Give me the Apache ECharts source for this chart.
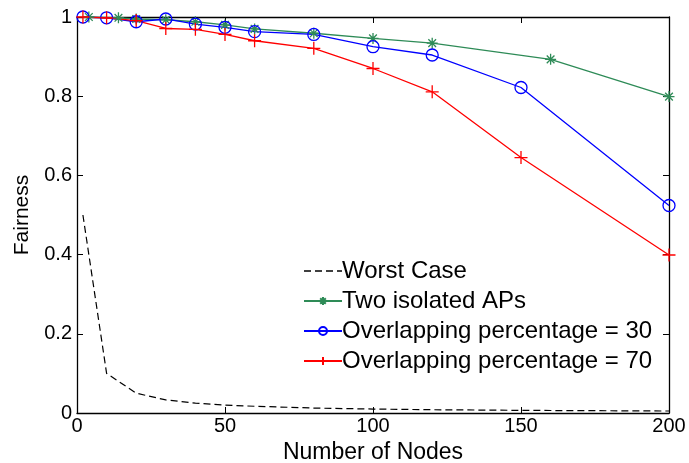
<!DOCTYPE html>
<html><head><meta charset="utf-8">
<script src="https://cdn.jsdelivr.net/npm/echarts@6/dist/echarts.min.js"></script>
<style>html,body{margin:0;padding:0;background:#fff}#c{width:689px;height:463px}</style>
</head><body><div id="c"></div>
<script>
const worstX = [2, 10, 20, 30, 40, 50, 60, 80, 100, 120, 150, 160, 200];
const worstY = [0.5, 0.1, 0.05, 0.033, 0.025, 0.02, 0.017, 0.0125, 0.01, 0.0083, 0.0067, 0.0063, 0.005];
const isoX = [4, 14, 20, 30, 40, 50, 60, 80, 100, 120, 160, 200];
const isoY = [1.0, 0.998, 0.995, 0.993, 0.988, 0.98, 0.970, 0.959, 0.946, 0.934, 0.893, 0.799];
const ov30X = [2, 10, 20, 30, 40, 50, 60, 80, 100, 120, 150, 200];
const ov30Y = [1.0, 0.998, 0.988, 0.995, 0.982, 0.974, 0.963, 0.956, 0.925, 0.904, 0.822, 0.524];
const ov70X = [2, 10, 20, 30, 40, 50, 60, 80, 100, 120, 150, 200];
const ov70Y = [1.0, 0.998, 0.991, 0.971, 0.969, 0.956, 0.940, 0.921, 0.870, 0.811, 0.645, 0.399];
const names = ['Worst Case', 'Two isolated APs', 'Overlapping percentage = 30', 'Overlapping percentage = 70'];
const xTicks = [0, 50, 100, 150, 200];
const yTicks = [0, 0.2, 0.4, 0.6, 0.8, 1];

const zip = (xs, ys) => xs.map((x, i) => [x, ys[i]]);
const FONT = 'Liberation Sans, Arial, sans-serif';
const star = 'path://M5,0L5,10M0,5L10,5M1.5,1.5L8.5,8.5M1.5,8.5L8.5,1.5';
const plus = 'path://M5,0L5,10M0,5L10,5';
const dashIcon = 'path://M0,0h7v1.4h-7zM11,0h7v1.4h-7zM22,0h7v1.4h-7zM33,0h5v1.4h-5z';

const chart = echarts.init(document.getElementById('c'), null, {renderer: 'canvas'});
const axisCommon = {
  axisLine: {show: true, onZero: false, lineStyle: {color: '#000', width: 1.3}},
  axisTick: {show: true, inside: true, length: 6, lineStyle: {color: '#000'}},
  splitLine: {show: false}
};
chart.setOption({
  animation: false,
  grid: {left: 77, right: 20, top: 17, bottom: 50, containLabel: false, outerBoundsMode: 'none'},
  xAxis: [
    Object.assign({}, axisCommon, {type: 'value', min: 0, max: 200, interval: 50,
      name: 'Number of Nodes', nameLocation: 'middle', nameGap: 20,
      nameTextStyle: {fontFamily: FONT, fontSize: 23, color: '#000'},
      axisLabel: {fontFamily: FONT, fontSize: 20, color: '#000', margin: 3,
        formatter: v => xTicks.includes(v) ? String(v) : ''}}),
    Object.assign({}, axisCommon, {type: 'value', min: 0, max: 200, interval: 50, position: 'top',
      axisLabel: {show: false}})
  ],
  yAxis: [
    Object.assign({}, axisCommon, {type: 'value', min: 0, max: 1, interval: 0.2,
      name: 'Fairness', nameLocation: 'middle', nameGap: 44,
      nameTextStyle: {fontFamily: FONT, fontSize: 21, color: '#000'},
      axisLabel: {fontFamily: FONT, fontSize: 20, color: '#000', margin: 5,
        formatter: v => { const t = yTicks.find(t => Math.abs(t - v) < 1e-9); return t === undefined ? '' : String(t); }}}),
    Object.assign({}, axisCommon, {type: 'value', min: 0, max: 1, interval: 0.2, position: 'right',
      axisLabel: {show: false}})
  ],
  legend: {
    orient: 'vertical', left: 298, top: 254, itemWidth: 38, itemHeight: 10, itemGap: 6,
    textStyle: {fontFamily: FONT, fontSize: 24, color: '#000', padding: [0, 0, 0, -5]},
    data: [{name: names[0], icon: dashIcon, itemStyle: {color: '#000', borderWidth: 0}}, names[1], names[2], names[3]]
  },
  series: [
    {name: names[0], type: 'line', data: zip(worstX, worstY), showSymbol: false, symbol: 'none',
      lineStyle: {color: '#000', width: 1.2, type: [7, 4]}, itemStyle: {color: '#000'}},
    {name: names[1], type: 'line', data: zip(isoX, isoY), symbol: star, symbolSize: 11,
      lineStyle: {color: '#2e8b57', width: 1.3},
      itemStyle: {color: 'none', borderColor: '#2e8b57', borderWidth: 1.3}},
    {name: names[2], type: 'line', data: zip(ov30X, ov30Y), symbol: 'circle', symbolSize: 12,
      lineStyle: {color: '#0000ff', width: 1.3},
      itemStyle: {color: 'none', borderColor: '#0000ff', borderWidth: 1.3}},
    {name: names[3], type: 'line', data: zip(ov70X, ov70Y), symbol: plus, symbolSize: 13,
      lineStyle: {color: '#ff0000', width: 1.3},
      itemStyle: {color: 'none', borderColor: '#ff0000', borderWidth: 1.3}}
  ]
});
</script></body></html>
